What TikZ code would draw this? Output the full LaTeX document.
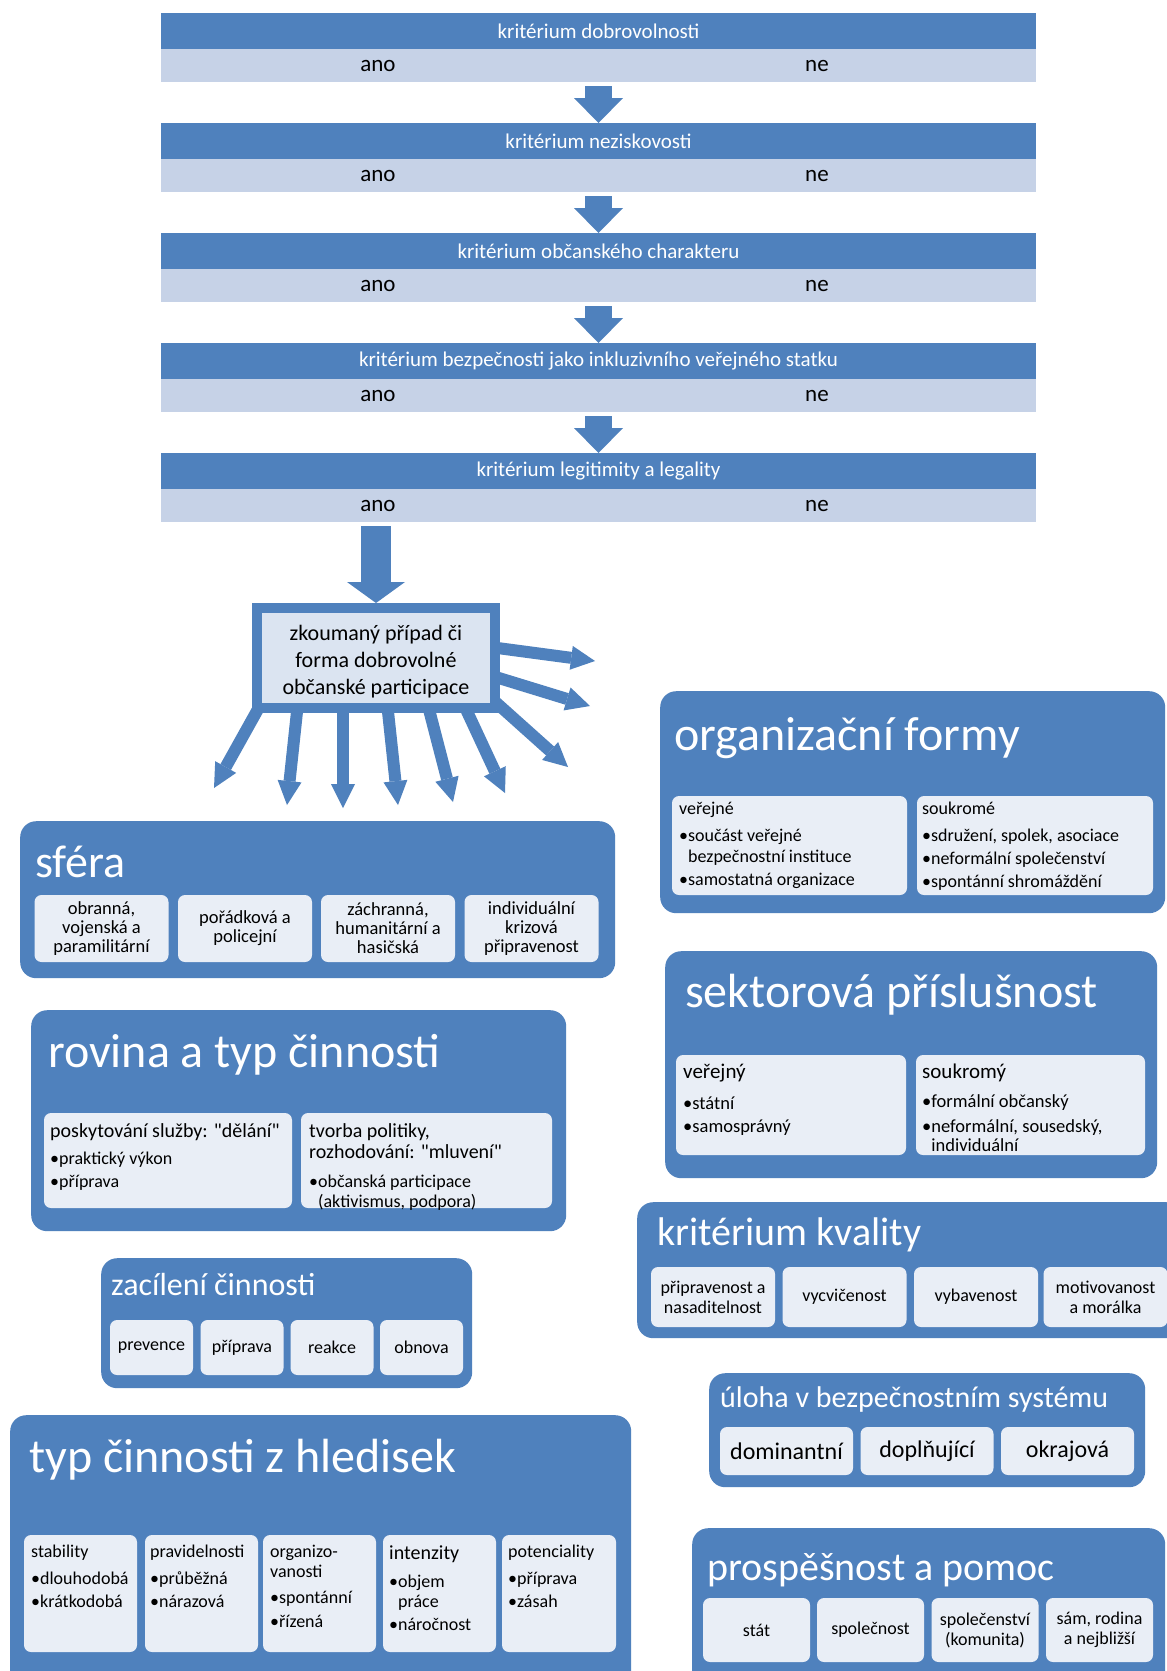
\documentclass[tikz,border=0pt]{standalone}
\usepackage{fontspec}
\setmainfont{Carlito}
\newfontfamily\qfont{Carlito}
\usetikzlibrary{arrows.meta}
\definecolor{dblue}{HTML}{4F81BD}
\definecolor{lband}{HTML}{C6D2E7}
\definecolor{ibox}{HTML}{E9EEF6}
\definecolor{cbox}{HTML}{DBE4F1}
\pgfdeclarelayer{back}
\pgfsetlayers{back,main}
\tikzset{
  crithead/.style={rectangle, fill=dblue, minimum width=875pt, minimum height=35.5pt, inner sep=0pt, text=white, font=\fontsize{21}{25}\selectfont, anchor=north},
  critband/.style={rectangle, fill=lband, minimum width=875pt, minimum height=33.5pt, inner sep=0pt, anchor=north},
  yesno/.style={inner sep=0pt, font=\fontsize{23}{27}\selectfont},
  bigarrow/.style={draw=dblue, line width=27pt, -{Triangle[width=49pt,length=25pt,line width=0pt]}},
  mainarrow/.style={draw=dblue, line width=30pt, -{Triangle[width=58pt,length=21pt,line width=0pt]}},
  fanarrow/.style={draw=dblue, line width=12pt, -{Triangle[width=24pt,length=24pt,line width=0pt]}},
  outerbox/.style={rectangle, fill=dblue, rounded corners=16pt, inner sep=0pt, anchor=north west},
  innerbox/.style={rectangle, fill=ibox, rounded corners=7pt, inner sep=0pt, align=center},
  cattitle/.style={text=white, inner sep=0pt, anchor=base west},
  txt/.style={inner sep=0pt, anchor=base west},
  fA/.style={font=\fontsize{18.5}{19}\selectfont},
  fB/.style={font=\fontsize{18}{20}\selectfont},
  fC/.style={font=\fontsize{20}{22}\selectfont},
  fD/.style={font=\fontsize{21}{23}\selectfont},
  fE/.style={font=\fontsize{24}{28}\selectfont},
}
\begin{document}
\begin{tikzpicture}[x=1pt,y=-1pt]
\useasboundingbox (0,0) rectangle (1167,1671);
\begin{pgfonlayer}{back}
\fill[white] (0,0) rectangle (1167,1671);
\end{pgfonlayer}
\clip (0,0) rectangle (1167,1671);

% ---------- criteria ----------
\node[crithead] (h1) at (598.5,13) {kritérium dobrovolnosti};
\node[critband] (b1) at (598.5,48.5) {};
\node[yesno] (y1) at (378,66) {ano};
\node[yesno] (n1) at (817,66) {ne};

\node[crithead] (h2) at (598.5,123) {kritérium neziskovosti};
\node[critband] (b2) at (598.5,158.5) {};
\node[yesno] (y2) at (378,176) {ano};
\node[yesno] (n2) at (817,176) {ne};

\node[crithead] (h3) at (598.5,233) {kritérium občanského charakteru};
\node[critband] (b3) at (598.5,268.5) {};
\node[yesno] (y3) at (378,286) {ano};
\node[yesno] (n3) at (817,286) {ne};

\node[crithead] (h4) at (598.5,343) {kritérium bezpečnosti jako inkluzivního veřejného statku};
\node[critband] (b4) at (598.5,378.5) {};
\node[yesno] (y4) at (378,396) {ano};
\node[yesno] (n4) at (817,396) {ne};

\node[crithead] (h5) at (598.5,453) {kritérium legitimity a legality};
\node[critband] (b5) at (598.5,488.5) {};
\node[yesno] (y5) at (378,506) {ano};
\node[yesno] (n5) at (817,506) {ne};

\draw[bigarrow] ([yshift=-4pt]b1.south) -- (h2.north);
\draw[bigarrow] ([yshift=-4pt]b2.south) -- (h3.north);
\draw[bigarrow] ([yshift=-4pt]b3.south) -- (h4.north);
\draw[bigarrow] ([yshift=-4pt]b4.south) -- (h5.north);

% ---------- central case ----------
\node[rectangle, fill=cbox, draw=dblue, line width=10pt, minimum width=238pt, minimum height=100pt, inner sep=0pt] (case) at (376,658) {};
\node[align=center, inner sep=0pt, font=\fontsize{22}{27}\selectfont] (caseT) at (376,662) {zkoumaný případ či\\forma dobrovolné\\občanské participace};

\draw[mainarrow] ([yshift=-4pt]b5.south -| case.north) -- (case.north);

\coordinate (t1) at (214,788);
\coordinate (t2) at (287,805);
\coordinate (t3) at (343,808);
\coordinate (t4) at (398,805);
\coordinate (t5) at (453,802);
\coordinate (t6) at (505,793);
\coordinate (t7) at (568,767);
\coordinate (tA) at (595,661);
\coordinate (tB) at (590,706);

\begin{pgfonlayer}{back}
\draw[fanarrow] ([xshift=15pt,yshift=20pt]case.south west) -- (t1);
\draw[fanarrow] ([xshift=47pt,yshift=20pt]case.south west) -- (t2);
\draw[fanarrow] ([xshift=91pt,yshift=20pt]case.south west) -- (t3);
\draw[fanarrow] ([xshift=134pt,yshift=20pt]case.south west) -- (t4);
\draw[fanarrow] ([xshift=173pt,yshift=19pt]case.south west) -- (t5);
\draw[fanarrow] ([xshift=206pt,yshift=21pt]case.south west) -- (t6);
\draw[fanarrow] ([xshift=230pt,yshift=23pt]case.south west) -- (t7);
\draw[fanarrow] ([xshift=-25pt,yshift=13pt]case.east) -- (tA);
\draw[fanarrow] ([xshift=-24pt,yshift=-13pt]case.east) -- (tB);
\end{pgfonlayer}

% ---------- organizační formy ----------
\node[outerbox, minimum width=505pt, minimum height=222pt] (org) at (660,691) {};
\node[cattitle, font=\fontsize{48}{58}\selectfont] (orgT) at (674,750) {organizační formy};
\node[innerbox, minimum width=235pt, minimum height=99pt] (orgA) at (789.5,845.5) {};
\node[innerbox, minimum width=236pt, minimum height=99pt] (orgB) at (1035,845.5) {};
\node[txt, fB] (orgA1) at (679,814) {veřejné};
\node[txt, fB] (orgA2) at (679,841) {•součást veřejné};
\node[txt, fB] (orgA3) at (679,862) {\phantom{•}bezpečnostní instituce};
\node[txt, fB] (orgA4) at (679,885) {•samostatná organizace};
\node[txt, fB] (orgB1) at (922,814) {soukromé};
\node[txt, fB] (orgB2) at (922,841) {•sdružení, spolek, asociace};
\node[txt, fB] (orgB3) at (922,864) {•neformální společenství};
\node[txt, fB] (orgB4) at (922,887) {•spontánní shromáždění};

% ---------- sféra ----------
\node[outerbox, minimum width=595pt, minimum height=157pt] (sf) at (20,821) {};
\node[cattitle, font=\fontsize{46}{55}\selectfont] (sfT) at (35,877) {sféra};
\node[innerbox, fA, minimum width=134pt, minimum height=67pt] (sf1) at (101.5,928.5) {obranná,\\vojenská a\\paramilitární};
\node[innerbox, fA, minimum width=134pt, minimum height=67pt] (sf2) at (245,928.5) {pořádková a\\policejní};
\node[innerbox, fA, minimum width=134pt, minimum height=67pt] (sf3) at (388,928.5) {záchranná,\\humanitární a\\hasičská};
\node[innerbox, fA, minimum width=134pt, minimum height=67pt] (sf4) at (531.5,928.5) {individuální\\krizová\\připravenost};

% ---------- rovina a typ činnosti ----------
\node[outerbox, minimum width=535pt, minimum height=221pt] (rov) at (31,1010) {};
\node[cattitle, font=\fontsize{48}{58}\selectfont] (rovT) at (48,1067) {rovina a typ činnosti};
\node[innerbox, minimum width=248pt, minimum height=95pt] (rovA) at (168,1160.5) {};
\node[innerbox, minimum width=251pt, minimum height=95pt] (rovB) at (426.5,1160.5) {};
\node[txt, fC] (rovA1) at (50,1137) {\qfont poskytování služby: "dělání"};
\node[txt, fB] (rovA2) at (50,1164) {•praktický výkon};
\node[txt, fB] (rovA3) at (50,1187) {•příprava};
\node[txt, fC] (rovB1) at (309,1137) {tvorba politiky,};
\node[txt, fC] (rovB2) at (309,1158) {\qfont rozhodování: "mluvení"};
\node[txt, fB] (rovB3) at (309,1187) {•občanská participace};
\node[txt, fB] (rovB4) at (309,1207) {\phantom{•}(aktivismus, podpora)};

% ---------- zacílení činnosti ----------
\node[outerbox, minimum width=371pt, minimum height=130pt] (zac) at (101,1258) {};
\node[cattitle, font=\fontsize{32}{38}\selectfont] (zacT) at (111,1295) {zacílení činnosti};
\node[innerbox, fB, minimum width=83pt, minimum height=55pt] (zac1) at (151.5,1347.5) {prevence};
\node[innerbox, fB, minimum width=83pt, minimum height=55pt] (zac2) at (242,1347.5) {příprava};
\node[innerbox, fB, minimum width=83pt, minimum height=55pt] (zac3) at (332,1347.5) {reakce};
\node[innerbox, fB, minimum width=83pt, minimum height=55pt] (zac4) at (421.5,1347.5) {obnova};

% ---------- typ činnosti z hledisek ----------
\node[outerbox, minimum width=621pt, minimum height=275pt] (typ) at (10,1415) {};
\node[cattitle, font=\fontsize{48}{58}\selectfont] (typT) at (29,1472) {typ činnosti z hledisek};
\node[innerbox, minimum width=113pt, minimum height=117pt] (typ1) at (80.5,1593.5) {};
\node[innerbox, minimum width=113pt, minimum height=117pt] (typ2) at (201.5,1593.5) {};
\node[innerbox, minimum width=113pt, minimum height=117pt] (typ3) at (319.5,1593.5) {};
\node[innerbox, minimum width=113pt, minimum height=117pt] (typ4) at (439.5,1593.5) {};
\node[innerbox, minimum width=114pt, minimum height=117pt] (typ5) at (559,1593.5) {};
\node[txt, fB] (typ1a) at (31,1557) {stability};
\node[txt, fB] (typ1b) at (31,1584) {•dlouhodobá};
\node[txt, fB] (typ1c) at (31,1607) {•krátkodobá};
\node[txt, fB] (typ2a) at (150,1557) {pravidelnosti};
\node[txt, fB] (typ2b) at (150,1584) {•průběžná};
\node[txt, fB] (typ2c) at (150,1607) {•nárazová};
\node[txt, fB] (typ3a) at (270,1557) {organizo-};
\node[txt, fB] (typ3b) at (270,1577) {vanosti};
\node[txt, fB] (typ3c) at (270,1603) {•spontánní};
\node[txt, fB] (typ3d) at (270,1627) {•řízená};
\node[txt, fC] (typ4a) at (389,1559) {intenzity};
\node[txt, fB] (typ4b) at (389,1587) {•objem};
\node[txt, fB] (typ4c) at (389,1607) {\phantom{•}práce};
\node[txt, fB] (typ4d) at (389,1630) {•náročnost};
\node[txt, fB] (typ5a) at (508,1557) {potenciality};
\node[txt, fB] (typ5b) at (508,1584) {•příprava};
\node[txt, fB] (typ5c) at (508,1607) {•zásah};

% ---------- sektorová příslušnost ----------
\node[outerbox, minimum width=492pt, minimum height=227pt] (sek) at (665,951) {};
\node[cattitle, font=\fontsize{48}{58}\selectfont] (sekT) at (685,1007) {sektorová příslušnost};
\node[innerbox, minimum width=230pt, minimum height=100pt] (sekA) at (791,1105) {};
\node[innerbox, minimum width=229pt, minimum height=100pt] (sekB) at (1030.5,1105) {};
\node[txt, fD] (sekA1) at (683,1078) {veřejný};
\node[txt, fA] (sekA2) at (683,1109) {•státní};
\node[txt, fA] (sekA3) at (683,1132) {•samosprávný};
\node[txt, fD] (sekB1) at (922,1078) {soukromý};
\node[txt, fA] (sekB2) at (922,1107) {•formální občanský};
\node[txt, fA] (sekB3) at (922,1132) {•neformální, sousedský,};
\node[txt, fA] (sekB4) at (922,1151) {\phantom{•}individuální};

% ---------- kritérium kvality ----------
\node[outerbox, minimum width=545pt, minimum height=136pt] (kva) at (637,1202) {};
\node[cattitle, font=\fontsize{40}{48}\selectfont] (kvaT) at (657,1245) {kritérium kvality};
\node[innerbox, fB, minimum width=124pt, minimum height=60pt] (kva1) at (713,1297) {připravenost a\\nasaditelnost};
\node[innerbox, fB, minimum width=124pt, minimum height=60pt] (kva2) at (844.5,1297) {vycvičenost};
\node[innerbox, fB, minimum width=124pt, minimum height=60pt] (kva3) at (976,1297) {vybavenost};
\node[innerbox, fB, minimum width=124pt, minimum height=60pt] (kva4) at (1105.5,1297) {motivovanost\\a morálka};

% ---------- úloha v bezpečnostním systému ----------
\node[outerbox, minimum width=436pt, minimum height=114pt] (ulo) at (709,1373) {};
\node[cattitle, font=\fontsize{30}{36}\selectfont] (uloT) at (720,1407) {úloha v bezpečnostním systému};
\node[innerbox, fE, minimum width=133pt, minimum height=48pt] (ulo1) at (786.5,1451) {dominantní};
\node[innerbox, fE, minimum width=133pt, minimum height=48pt] (ulo2) at (927,1451) {doplňující};
\node[innerbox, fE, minimum width=133pt, minimum height=48pt] (ulo3) at (1067.5,1451) {okrajová};

% ---------- prospěšnost a pomoc ----------
\node[outerbox, minimum width=473pt, minimum height=160pt] (pro) at (692,1528) {};
\node[cattitle, font=\fontsize{40}{48}\selectfont] (proT) at (707,1580) {prospěšnost a pomoc};
\node[innerbox, fB, minimum width=107pt, minimum height=64pt] (pro1) at (756.5,1630) {stát};
\node[innerbox, fB, minimum width=107pt, minimum height=64pt] (pro2) at (870.5,1630) {společnost};
\node[innerbox, fB, minimum width=107pt, minimum height=64pt] (pro3) at (985,1630) {společenství\\(komunita)};
\node[innerbox, fB, minimum width=107pt, minimum height=64pt] (pro4) at (1099.5,1630) {sám, rodina\\a nejbližší};
\end{tikzpicture}
\end{document}
